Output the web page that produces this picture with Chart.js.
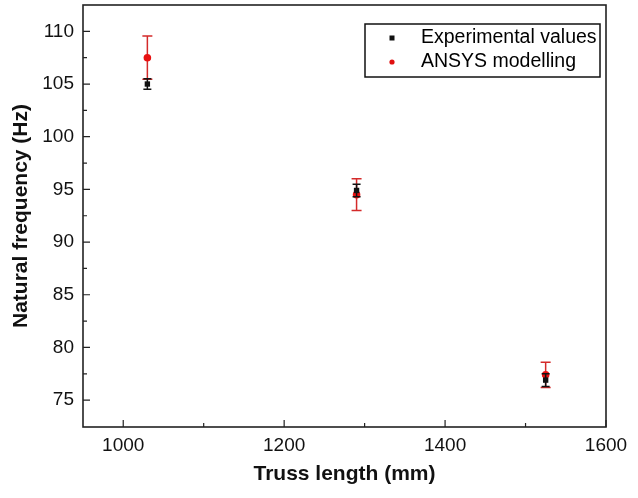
<!DOCTYPE html>
<html>
<head>
<meta charset="utf-8">
<script src="https://cdn.jsdelivr.net/npm/chart.js@4.4.0/dist/chart.umd.min.js"></script>
<style>
  html, body { margin: 0; padding: 0; background: #fff; }
  #wrap { width: 638px; height: 498px; }
</style>
</head>
<body>
<div id="wrap"><canvas id="c" width="638" height="498"></canvas></div>
<script>
const xValues = [1030, 1290, 1525];
const expValues = [105.0, 94.9, 76.9];
const expErr = [0.5, 0.6, 0.6];
const ansysValues = [107.5, 94.5, 77.4];
const ansysErr = [2.05, 1.5, 1.2];
const xTicks = [1000, 1200, 1400, 1600];
const xMinorTicks = [1100, 1300, 1500];
const yTicks = [75, 80, 85, 90, 95, 100, 105, 110];
const yMinorTicks = [77.5, 82.5, 87.5, 92.5, 97.5, 102.5, 107.5];
const seriesLabels = ['Experimental values', 'ANSYS modelling'];

const FONT = '"Liberation Sans", Arial, sans-serif';
const errors = [expErr, ansysErr];
const errColors = ['#111111', '#d42a2a'];
const capHalf = [4, 5];

const errorBarPlugin = {
  id: 'errorBars',
  beforeDatasetDraw(chart, args) {
    const i = args.index;
    const ds = chart.data.datasets[i];
    const xs = chart.scales.x, ys = chart.scales.y;
    const ctx = chart.ctx;
    ctx.save();
    ctx.strokeStyle = errColors[i];
    ctx.lineWidth = 1.5;
    ds.data.forEach((p, k) => {
      const e = errors[i][k];
      const px = xs.getPixelForValue(p.x);
      const top = ys.getPixelForValue(p.y + e);
      const bot = ys.getPixelForValue(p.y - e);
      ctx.beginPath();
      ctx.moveTo(px, top); ctx.lineTo(px, bot);
      ctx.moveTo(px - capHalf[i], top); ctx.lineTo(px + capHalf[i], top);
      ctx.moveTo(px - capHalf[i], bot); ctx.lineTo(px + capHalf[i], bot);
      ctx.stroke();
    });
    ctx.restore();
  }
};

const framePlugin = {
  id: 'frame',
  afterDraw(chart) {
    const {ctx, chartArea: a} = chart;
    const xs = chart.scales.x, ys = chart.scales.y;
    ctx.save();
    ctx.strokeStyle = '#222';
    ctx.lineWidth = 1.6;
    ctx.strokeRect(a.left, a.top, a.right - a.left, a.bottom - a.top);
    ctx.lineWidth = 1.2;
    ctx.beginPath();
    xTicks.forEach(v => { const p = xs.getPixelForValue(v); ctx.moveTo(p, a.bottom); ctx.lineTo(p, a.bottom - 7); });
    xMinorTicks.forEach(v => { const p = xs.getPixelForValue(v); ctx.moveTo(p, a.bottom); ctx.lineTo(p, a.bottom - 4); });
    yTicks.forEach(v => { const p = ys.getPixelForValue(v); ctx.moveTo(a.left, p); ctx.lineTo(a.left + 7, p); });
    yMinorTicks.forEach(v => { const p = ys.getPixelForValue(v); ctx.moveTo(a.left, p); ctx.lineTo(a.left + 4, p); });
    ctx.stroke();

    // legend
    const lx = 365, ly = 24, lw = 235, lh = 53;
    ctx.fillStyle = '#fff';
    ctx.fillRect(lx, ly, lw, lh);
    ctx.strokeStyle = '#111';
    ctx.lineWidth = 1.5;
    ctx.strokeRect(lx, ly, lw, lh);
    ctx.font = '19.5px ' + FONT;
    ctx.textBaseline = 'middle';
    ctx.textAlign = 'left';
    ctx.fillStyle = '#000';
    ctx.fillText(seriesLabels[0], 421, 38);
    ctx.fillText(seriesLabels[1], 421, 62);
    ctx.fillStyle = '#111';
    ctx.fillRect(389.5, 35.5, 5, 5);
    ctx.fillStyle = '#e01010';
    ctx.beginPath(); ctx.arc(392, 62, 2.6, 0, Math.PI * 2); ctx.fill();
    ctx.restore();
  }
};

new Chart(document.getElementById('c'), {
  type: 'scatter',
  data: {
    datasets: [
      {
        label: seriesLabels[0],
        data: xValues.map((x, i) => ({x, y: expValues[i]})),
        pointStyle: 'rect',
        pointRadius: 3.8,
        backgroundColor: '#111',
        borderColor: '#111',
        borderWidth: 0,
        showLine: false
      },
      {
        label: seriesLabels[1],
        data: xValues.map((x, i) => ({x, y: ansysValues[i]})),
        pointStyle: 'circle',
        pointRadius: 3.8,
        backgroundColor: '#e81010',
        borderColor: '#e81010',
        borderWidth: 0,
        showLine: false
      }
    ]
  },
  options: {
    responsive: false,
    animation: false,
    devicePixelRatio: 1,
    layout: { padding: { left: 0, right: 32, top: 5, bottom: 0 } },
    plugins: { legend: { display: false }, tooltip: { enabled: false } },
    scales: {
      x: {
        type: 'linear',
        min: 950, max: 1600,
        afterBuildTicks: s => { s.ticks = xTicks.map(v => ({value: v})); },
        afterFit: s => { s.height = 71; s.paddingLeft = 0; s.paddingRight = 0; },
        grid: { display: false, drawTicks: false },
        border: { display: false },
        ticks: { padding: 7, color: '#111', font: { family: FONT, size: 19 }, maxRotation: 0,
                 callback: v => String(v) },
        title: { display: true, text: 'Truss length (mm)', color: '#111',
                 font: { family: FONT, size: 21, weight: 'bold' }, padding: { top: 0, bottom: 11 } }
      },
      y: {
        type: 'linear',
        min: 72.45, max: 112.5,
        afterBuildTicks: s => { s.ticks = yTicks.map(v => ({value: v})); },
        afterFit: s => { s.width = 83; s.paddingTop = 0; s.paddingBottom = 0; },
        grid: { display: false, drawTicks: false },
        border: { display: false },
        ticks: { padding: 9, color: '#111', font: { family: FONT, size: 19 },
                 callback: v => String(v) },
        title: { display: true, text: 'Natural frequency (Hz)', color: '#111',
                 font: { family: FONT, size: 21, weight: 'bold' }, padding: { top: 9, bottom: 0 } }
      }
    }
  },
  plugins: [errorBarPlugin, framePlugin]
});
</script>
</body>
</html>
